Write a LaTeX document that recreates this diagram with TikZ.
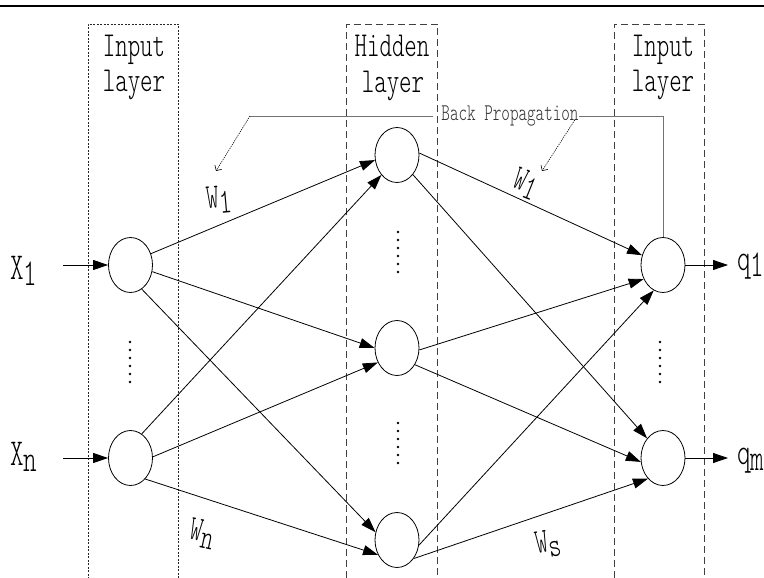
\documentclass[tikz,border=0pt]{standalone}
\usepackage{fontspec}
\usetikzlibrary{arrows.meta,shapes.geometric}
\newfontfamily\condmono[FakeStretch=0.68]{Latin Modern Mono Light}
\newcommand\lowsub[1]{\lower6pt\hbox{#1}}
\begin{document}
\begin{tikzpicture}[x=1pt,y=-1pt,
  neuron/.style={draw, ellipse, minimum width=44pt, minimum height=55pt, inner sep=0pt, line width=0.8pt},
  link/.style={line width=0.8pt, -{Triangle[length=15pt,width=10pt]}},
  boxfine/.style={line width=0.7pt, draw=black!85, dash pattern=on 2pt off 1.5pt},
  boxlong/.style={line width=0.9pt, draw=black!75, dash pattern=on 7pt off 4pt},
  boxlbl/.style={inner sep=0pt, font=\condmono\fontsize{35}{35}\selectfont},
  iolbl/.style={inner sep=0pt, anchor=base west, font=\condmono\fontsize{38}{38}\selectfont},
  wlbl/.style={inner sep=0pt, font=\condmono\fontsize{35}{35}\selectfont},
  bptext/.style={inner sep=0pt, text=black!80, font=\condmono\fontsize{24}{24}\selectfont},
  bpline/.style={line width=0.7pt, draw=black!55},
  bparrow/.style={line width=0.6pt, dash pattern=on 1.2pt off 1pt, -{Straight Barb[length=4pt,width=8pt]}},
  dot/.style={fill=black}
]
\clip (0,0) rectangle (764,578);

% top rule
\draw[line width=1.8pt] (0,6) -- (764,6);

% layer frames (open at the bottom)
\draw[boxfine] (88,600) -- (88,24) -- (178,24) -- (178,600);
\draw[boxlong] (346.5,600) -- (346.5,24) -- (437,24) -- (437,600);
\draw[boxlong] (614,600) -- (614,24) -- (704,24) -- (704,600);

% frame titles
\node[boxlbl, anchor=base] (t1a) at (134,57) {Input};
\node[boxlbl, anchor=base] (t1b) at (134,92) {layer};
\node[boxlbl, anchor=base] (t2a) at (392,57) {Hidden};
\node[boxlbl, anchor=base] (t2b) at (393,93) {layer};
\node[boxlbl, anchor=base] (t3a) at (663,57) {Input};
\node[boxlbl, anchor=base] (t3b) at (663,92) {layer};

% neurons
\node[neuron] (x1) at (130.5,265) {};
\node[neuron] (xn) at (130.5,458) {};
\node[neuron] (h1) at (397,155) {};
\node[neuron] (h2) at (397,348) {};
\node[neuron] (h3) at (397,540) {};
\node[neuron] (o1) at (663,265) {};
\node[neuron] (o2) at (663,458) {};

% vertical ellipsis dots
\foreach \y in {342,350,358,366,374,382} {
  \fill[dot] (130,\y) circle (1.4pt);
  \fill[dot] (660,\y) circle (1.4pt);
}
\foreach \y in {232,240,248,256,264,272,423,431,439,447,455,463} {
  \fill[dot] (398,\y) circle (1.4pt);
}

% inputs and outputs
\node[iolbl] (lx1) at (10,279) {X\lowsub{1}};
\node[iolbl] (lxn) at (10,465) {X\lowsub{n}};
\coordinate (in1) at (63,265);
\coordinate (inn) at (63,458);
\draw[link] (in1) -- (x1.west);
\draw[link] (inn) -- (xn.west);

\node[iolbl] (lq1) at (737,270) {q\lowsub{1}};
\node[iolbl] (lqm) at (737,464) {q\lowsub{m}};
\coordinate (out1) at (728,265);
\coordinate (outm) at (728,458);
\draw[link] (o1.east) -- (out1);
\draw[link] (o2.east) -- (outm);

% input -> hidden
\draw[link] (x1.29)  -- (h1.193);
\draw[link] (x1.-17) -- (h2.180);
\draw[link] (x1.-65) -- (h3.160);
\draw[link] (xn.65)  -- (h1.232);
\draw[link] (xn.3)   -- (h2.217);
\draw[link] (xn.-55) -- (h3.218);

% hidden -> output
\draw[link] (h1.5)   -- (o1.155);
\draw[link] (h1.-51) -- (o2.129);
\draw[link] (h2.-5)  -- (o1.216);
\draw[link] (h2.-43) -- (o2.190);
\draw[link] (h3.-13) -- (o1.250);
\draw[link] (h3.-48) -- (o2.234);

% weight labels
\node[wlbl, rotate=5]   (w1)  at (219,200) {W\lowsub{1}};
\node[wlbl, rotate=-22] (w1r) at (526,184) {W\lowsub{1}};
\node[wlbl, rotate=-12] (wn)  at (202,534) {W\lowsub{n}};
\node[wlbl, rotate=10]  (ws)  at (548,544) {W\lowsub{s}};

% back propagation path
\node[bptext] (bp) at (510,116) {Back Propagation};
\coordinate (bpl) at (250,116);
\coordinate (pl) at (216,171);
\coordinate (pr) at (542,171);
\draw[bpline] ([xshift=-8pt]bp.west) -- (bpl);
\draw[bpline] (bp.east) -| (o1.north);
\draw[bparrow] (bpl) -- (pl);
\draw[bparrow] ([shift={(-4,4)}]bp.east) -- (pr);
\end{tikzpicture}
\end{document}
